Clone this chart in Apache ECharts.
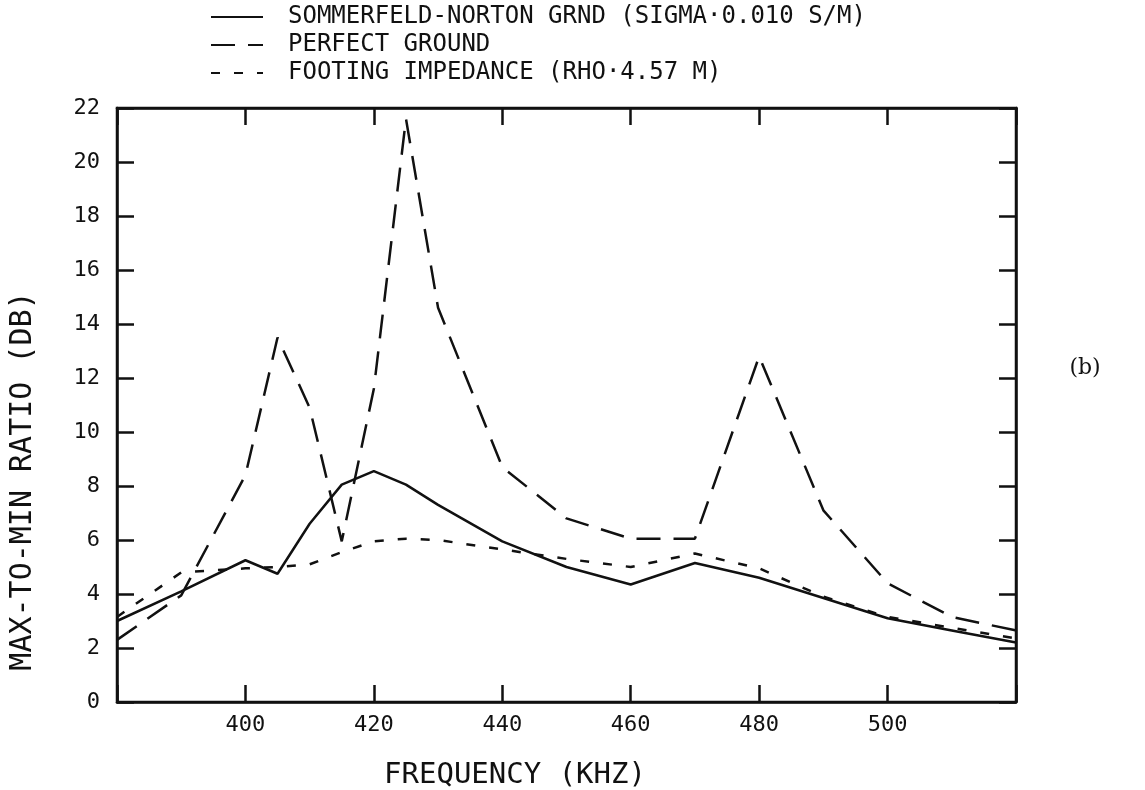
<!DOCTYPE html>
<html>
<head>
<meta charset="utf-8">
<script src="https://cdn.jsdelivr.net/npm/echarts@6/dist/echarts.min.js"></script>
<style>
  html, body { margin: 0; padding: 0; background: #ffffff; }
  #chart { width: 1145px; height: 790px; }
</style>
</head>
<body>
<div id="chart"></div>
<script>
// ---- data ----
const freqKHz = [380, 390, 400, 405, 410, 415, 420, 425, 430, 440, 450, 460, 470, 480, 490, 500, 510, 520];
const sommerfeldNorton = [3.0, 4.1, 5.25, 4.75, 6.6, 8.05, 8.55, 8.05, 7.3, 5.95, 5.0, 4.35, 5.15, 4.6, 3.85, 3.1, 2.65, 2.2];
const perfectGround    = [2.3, 3.95, 8.4, 13.5, 10.9, 5.95, 11.6, 21.6, 14.6, 8.7, 6.8, 6.05, 6.05, 12.8, 7.1, 4.4, 3.15, 2.65];
const footingImpedance = [3.15, 4.8, 4.95, 5.0, 5.1, 5.55, 5.95, 6.05, 6.0, 5.65, 5.3, 5.0, 5.5, 4.95, 3.9, 3.15, 2.75, 2.35];

const seriesNames = [
  'SOMMERFELD-NORTON GRND (SIGMA\u00B70.010 S/M)',
  'PERFECT GROUND',
  'FOOTING IMPEDANCE (RHO\u00B74.57 M)'
];
const xTickLabels = ['400', '420', '440', '460', '480', '500'];
const xAxisTitle = 'FREQUENCY (KHZ)';
const yAxisTitle = 'MAX-TO-MIN RATIO (DB)';
const panelLabel = '(b)';

function pairs(vals) { return freqKHz.map((f, i) => [f, vals[i]]); }

const MONO = '"DejaVu Sans Mono", "Liberation Mono", monospace';
const INK = '#111111';

const chart = echarts.init(document.getElementById('chart'));

const axisCommon = {
  axisLine: { show: true, onZero: false, lineStyle: { color: INK, width: 2.5 } },
  splitLine: { show: false },
  axisTick: { show: true, inside: true, length: 17, lineStyle: { color: INK, width: 2.5 } }
};

chart.setOption({
  backgroundColor: '#ffffff',
  animation: false,
  grid: {
    left: 117, top: 108, right: 129, bottom: 88,
    show: true, borderColor: INK, borderWidth: 2.5, backgroundColor: 'transparent'
  },
  legend: {
    orient: 'vertical',
    left: 205,
    top: 0,
    itemWidth: 52,
    itemHeight: 14,
    itemGap: 4,
    itemStyle: { opacity: 0 },
    textStyle: { fontFamily: MONO, fontSize: 24, color: INK, padding: [0, 0, 0, 20] },
    data: seriesNames
  },
  xAxis: [
    Object.assign({}, axisCommon, {
      type: 'value', min: 380, max: 520, interval: 20, position: 'bottom',
      axisLabel: {
        show: true, margin: 12, fontFamily: MONO, fontSize: 22, color: INK,
        formatter: v => (xTickLabels.indexOf(String(v)) >= 0 ? String(v) : '')
      }
    }),
    Object.assign({}, axisCommon, {
      type: 'value', min: 380, max: 520, interval: 20, position: 'top',
      axisLabel: { show: false }
    })
  ],
  yAxis: [
    Object.assign({}, axisCommon, {
      type: 'value', min: 0, max: 22, interval: 2, position: 'left',
      axisLabel: { show: true, margin: 17, fontFamily: MONO, fontSize: 22, color: INK }
    }),
    Object.assign({}, axisCommon, {
      type: 'value', min: 0, max: 22, interval: 2, position: 'right',
      axisLabel: { show: false }
    })
  ],
  series: [
    {
      name: seriesNames[0], type: 'line', data: pairs(sommerfeldNorton),
      symbol: 'none', showSymbol: false,
      lineStyle: { color: INK, width: 2.5, type: 'solid' },
      itemStyle: { color: INK }
    },
    {
      name: seriesNames[1], type: 'line', data: pairs(perfectGround),
      symbol: 'none', showSymbol: false,
      lineStyle: { color: INK, width: 2.5, type: [24, 13] },
      itemStyle: { color: INK }
    },
    {
      name: seriesNames[2], type: 'line', data: pairs(footingImpedance),
      symbol: 'none', showSymbol: false,
      lineStyle: { color: INK, width: 2.5, type: [9, 14] },
      itemStyle: { color: INK }
    }
  ],
  graphic: [
    {
      type: 'text', x: 515, y: 775,
      style: { text: xAxisTitle, fontFamily: MONO, fontSize: 29, fill: INK, align: 'center', verticalAlign: 'middle' }
    },
    {
      type: 'text', x: 23, y: 481, rotation: Math.PI / 2,
      style: { text: yAxisTitle, fontFamily: MONO, fontSize: 30, fill: INK, align: 'center', verticalAlign: 'middle' }
    },
    {
      type: 'text', x: 1085, y: 368,
      style: { text: panelLabel, fontFamily: '"DejaVu Serif", serif', fontSize: 22, fill: INK, align: 'center', verticalAlign: 'middle' }
    }
  ]
});
</script>
</body>
</html>
